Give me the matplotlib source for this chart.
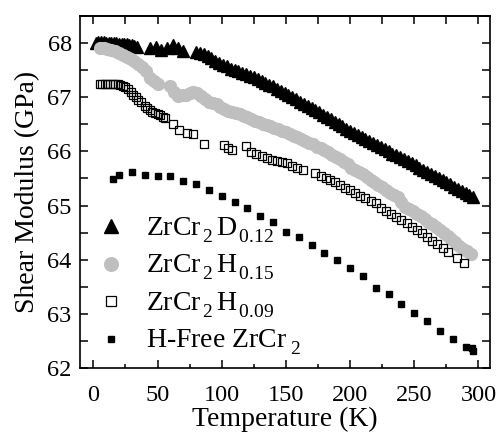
import numpy as np
import matplotlib
matplotlib.use("Agg")
import matplotlib.pyplot as plt
from matplotlib.ticker import MultipleLocator

# ZrCr2D0.12 (filled triangles)
d012_T = [2, 4, 6, 8, 10, 12, 14, 16, 18, 20, 22, 24, 26, 28, 30, 32, 34,
          44, 49, 53, 57, 62, 66, 70,
          80, 83, 86, 89, 92, 95, 98, 101, 104, 107, 110, 113, 116, 119, 122,
          125, 128, 131, 134, 137, 140, 143, 146, 149, 152, 155, 158, 161, 164,
          167, 170, 173, 176, 179, 182, 185, 188, 191, 194, 197, 200, 203, 206,
          209, 212, 215, 218, 221, 224, 227, 230, 233, 236, 239, 242, 245, 248,
          251, 254, 257, 260, 263, 266, 269, 272, 275, 278, 281, 284, 287, 290,
          293, 296]
d012_G = [68.01, 68.02, 68.02, 68.02, 68.01, 68.01, 68.01, 68.00, 68.00, 67.99,
          67.99, 67.98, 67.98, 67.97, 67.96, 67.95, 67.93,
          67.90, 67.93, 67.87, 67.90, 67.96, 67.90, 67.86,
          67.84, 67.82, 67.79, 67.76, 67.72, 67.67, 67.63, 67.60, 67.57, 67.53,
          67.50, 67.48, 67.45, 67.42, 67.40, 67.37, 67.34, 67.30, 67.27, 67.23,
          67.20, 67.16, 67.12, 67.08, 67.04, 67.00, 66.96, 66.92, 66.88, 66.84,
          66.80, 66.76, 66.72, 66.67, 66.63, 66.59, 66.55, 66.50, 66.46, 66.42,
          66.38, 66.34, 66.30, 66.27, 66.23, 66.19, 66.15, 66.12, 66.08, 66.04,
          66.00, 65.96, 65.93, 65.89, 65.86, 65.82, 65.79, 65.74, 65.70, 65.66,
          65.62, 65.58, 65.54, 65.50, 65.47, 65.43, 65.39, 65.35, 65.31, 65.27,
          65.23, 65.19, 65.15]

# ZrCr2H0.15 (gray circles)
h015_T = [5, 8, 11, 14, 17, 20, 23, 26, 29, 32, 35, 38, 41, 44, 47, 50,
          60, 63, 66, 69, 72, 75, 78, 81, 84, 87, 90, 93, 96, 99, 102, 105, 108,
          111, 114, 117, 120, 123, 126, 129, 132, 135, 138, 141, 144, 147, 150,
          153, 156, 159, 162, 165, 168, 171, 174, 177, 180, 183, 186, 189, 192,
          195, 198, 201, 204, 207, 210, 213, 216, 219, 222, 225, 228, 231, 234,
          237, 240, 243, 246, 249, 252, 255, 258, 261, 264, 267, 270, 273, 276,
          279, 282, 285, 288, 291, 294]
h015_G = [67.90, 67.90, 67.89, 67.88, 67.85, 67.82, 67.78, 67.75, 67.71, 67.67,
          67.62, 67.55, 67.48, 67.35, 67.30, 67.25,
          67.20, 67.10, 67.03, 67.04, 67.05, 67.08, 67.10, 67.07, 67.02, 66.96,
          66.91, 66.89, 66.87, 66.82, 66.78, 66.75, 66.73, 66.71, 66.69, 66.66,
          66.63, 66.60, 66.57, 66.54, 66.51, 66.49, 66.46, 66.44, 66.41, 66.38,
          66.35, 66.32, 66.29, 66.26, 66.23, 66.20, 66.16, 66.13, 66.09, 66.06,
          66.02, 65.98, 65.94, 65.90, 65.86, 65.81, 65.76, 65.70, 65.66, 65.62,
          65.58, 65.53, 65.48, 65.43, 65.38, 65.34, 65.29, 65.24, 65.20, 65.15,
          65.06, 64.98, 64.94, 64.89, 64.85, 64.80, 64.75, 64.70, 64.65, 64.60,
          64.55, 64.49, 64.44, 64.38, 64.32, 64.26, 64.20, 64.16, 64.11]

# ZrCr2H0.09 (open squares)
h009_T = [5, 7, 9, 11, 13, 15, 17, 19, 21, 23, 25, 27, 29, 31, 33, 35, 37, 40,
          42, 44, 46, 48, 50, 52, 54, 56, 62, 67, 73, 78, 86,
          102, 105, 108, 119, 123, 127, 131, 135, 139, 143, 147, 151, 155, 159,
          163, 173, 177, 181, 184, 188, 192, 196, 200, 204, 208, 212, 216, 220,
          224, 228, 232, 236, 240, 244, 248, 252, 256, 260, 264, 268, 272, 276,
          283, 289]
h009_G = [67.25, 67.25, 67.25, 67.25, 67.25, 67.25, 67.24, 67.24, 67.22, 67.21,
          67.18, 67.15, 67.10, 67.05, 67.00, 66.95, 66.91, 66.84, 66.80, 66.76,
          66.73, 66.70, 66.69, 66.67, 66.64, 66.61, 66.51, 66.40, 66.34, 66.33,
          66.14,
          66.12, 66.07, 66.03, 66.10, 65.99, 65.95, 65.92, 65.87, 65.85, 65.83,
          65.81, 65.79, 65.73, 65.69, 65.65, 65.60, 65.55, 65.51, 65.48, 65.44,
          65.38, 65.32, 65.28, 65.24, 65.18, 65.13, 65.09, 65.04, 64.96, 64.89,
          64.84, 64.79, 64.73, 64.67, 64.61, 64.55, 64.49, 64.41, 64.35, 64.29,
          64.22, 64.15, 64.03, 63.93]

# H-free ZrCr2 (small filled squares)
free_T = [15, 20, 30, 40, 50, 60, 70, 80, 90, 100, 110, 120, 130, 140, 150,
          160, 170, 180, 190, 200, 210, 220, 230, 240, 250, 260, 270, 280, 290,
          295, 296]
free_G = [65.49, 65.57, 65.62, 65.57, 65.54, 65.54, 65.46, 65.39, 65.29, 65.17,
          65.06, 64.95, 64.81, 64.69, 64.52, 64.41, 64.27, 64.13, 63.99, 63.85,
          63.70, 63.48, 63.36, 63.18, 63.02, 62.86, 62.69, 62.54, 62.39, 62.37,
          62.31]

plt.rcParams['font.family'] = ['Liberation Serif', 'DejaVu Serif']
plt.rcParams['mathtext.fontset'] = 'custom'
plt.rcParams['mathtext.rm'] = 'Liberation Serif'
plt.rcParams['mathtext.it'] = 'Liberation Serif:italic'
plt.rcParams['mathtext.bf'] = 'Liberation Serif:bold'

# subscripts sit lower in the original figure
try:
    from matplotlib import _mathtext
    _mathtext.FontConstantsBase.sub1 = 0.55
    _mathtext.FontConstantsBase.sub2 = 0.6
except Exception:
    pass

fig = plt.figure(figsize=(4.96, 4.33), dpi=100)
ax = fig.add_axes([80 / 496, 65 / 433, 410 / 496, 352 / 433])

gray = '#bfbfbf'
ax.plot(d012_T, d012_G, ls='none', marker='^', ms=8.5, color='black',
        label=r'ZrCr$_{\,2}\,$D$_{\,0.12}$')
ax.plot(h015_T, h015_G, ls='none', marker='o', ms=8.5, color=gray,
        label=r'ZrCr$_{\,2}\,$H$_{\,0.15}$')
ax.plot(h009_T, h009_G, ls='none', marker='s', ms=6, mfc='none', mec='black',
        mew=0.9, label=r'ZrCr$_{\,2}\,$H$_{\,0.09}$')
ax.plot(free_T, free_G, ls='none', marker='s', ms=4.3, color='black',
        label=r'H-Free ZrCr$_{\,\,2}$')

ax.set_xlim(-10.4, 309)
ax.set_ylim(62, 68.5)
ax.xaxis.set_major_locator(MultipleLocator(50))
ax.xaxis.set_minor_locator(MultipleLocator(25))
ax.yaxis.set_major_locator(MultipleLocator(1))
ax.yaxis.set_minor_locator(MultipleLocator(0.5))
ax.tick_params(axis='x', which='major', direction='in', length=6, width=1.1,
               top=False, labelsize=17.5, pad=12)
ax.tick_params(axis='x', which='minor', direction='in', length=3, width=1.1,
               top=False)
ax.tick_params(axis='y', which='both', direction='in', length=6, width=1.1,
               right=True, labelsize=17.5, pad=6)
top = ax.secondary_xaxis('top')
top.xaxis.set_major_locator(MultipleLocator(25))
top.tick_params(direction='in', length=6, width=1.1, labeltop=False)
for sp in list(ax.spines.values()) + list(top.spines.values()):
    sp.set_linewidth(1.2)

ax.set_xlabel('Temperature (K)', fontsize=20, labelpad=1)
ax.set_ylabel('Shear Modulus (GPa)', fontsize=20, labelpad=5)

ax.legend(loc='lower left', bbox_to_anchor=(0.046, 0.03), frameon=False,
          fontsize=20, handlelength=0.9, handletextpad=0.8, numpoints=1,
          labelspacing=0.3, borderpad=0, borderaxespad=0, markerscale=1.15)

fig.savefig('out.png', dpi=100)
